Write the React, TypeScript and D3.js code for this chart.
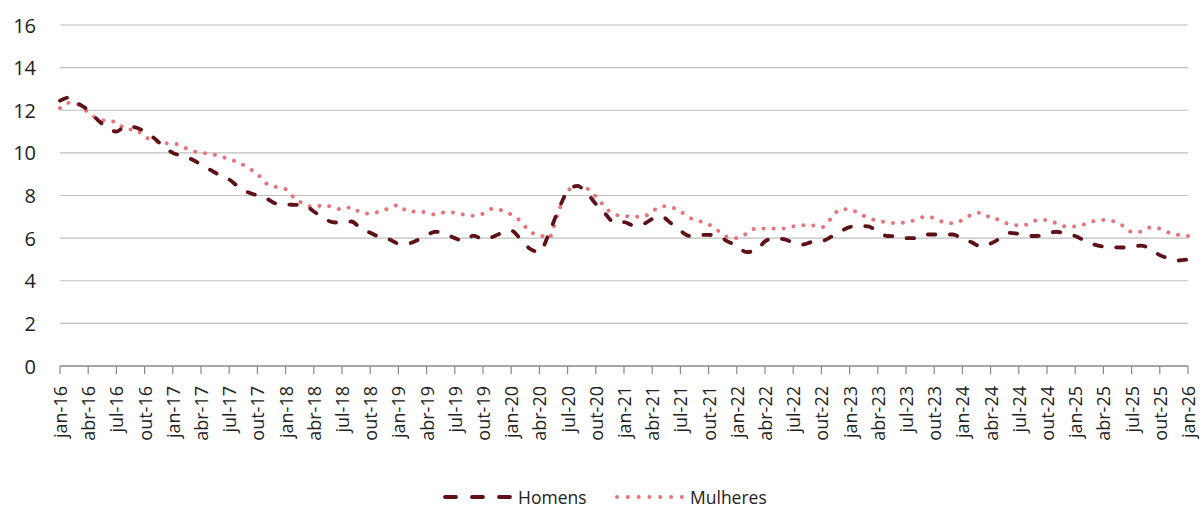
import * as d3 from "d3";

const monthNames = ["jan", "fev", "mar", "abr", "mai", "jun", "jul", "ago", "set", "out", "nov", "dez"];
const years = [16, 17, 18, 19, 20, 21, 22, 23, 24, 25, 26];

// jan-16 .. jan-26, monthly
const categories: string[] = [];
years.forEach((y) =>
  monthNames.forEach((m, i) => {
    if (y < 26 || i === 0) categories.push(`${m}-${y}`);
  })
);

const homens = [
  12.45, 12.6, 12.3, 12.0, 11.55, 11.2, 11.0, 11.25, 11.2, 11.0, 10.7, 10.3, 10.0, 9.85, 9.7, 9.45, 9.2, 8.95, 8.75, 8.4,
  8.15, 8.0, 7.85, 7.62, 7.58, 7.56, 7.54, 7.25, 6.95, 6.75, 6.72, 6.78, 6.45, 6.25, 6.05, 5.95, 5.75, 5.75, 5.9, 6.15,
  6.3, 6.2, 6.0, 5.88, 6.12, 5.95, 6.05, 6.25, 6.35, 5.95, 5.5, 5.35, 6.2, 7.3, 8.2, 8.45, 8.15, 7.6, 7.15, 6.72,
  6.75, 6.6, 6.65, 6.9, 7.0, 6.7, 6.35, 6.1, 6.15, 6.15, 6.1, 5.85, 5.65, 5.35, 5.4, 5.85, 6.0, 5.95, 5.8, 5.7,
  5.82, 5.85, 6.05, 6.3, 6.52, 6.58, 6.55, 6.3, 6.1, 6.08, 6.0, 6.0, 6.17, 6.17, 6.17, 6.17, 5.95, 5.8, 5.6, 5.75,
  5.98, 6.25, 6.2, 6.1, 6.1, 6.2, 6.3, 6.2, 6.1, 5.88, 5.7, 5.6, 5.57, 5.56, 5.57, 5.65, 5.5, 5.2, 5.05, 4.95, 5.0,
];

const mulheres = [
  12.1, 12.35, 12.25, 11.9, 11.6, 11.5, 11.45, 11.1, 11.1, 10.75, 10.6, 10.45, 10.45, 10.3, 10.1, 10.0, 9.95, 9.85, 9.7, 9.55,
  9.3, 9.0, 8.55, 8.4, 8.3, 7.85, 7.6, 7.45, 7.55, 7.45, 7.35, 7.45, 7.2, 7.15, 7.25, 7.4, 7.55, 7.25, 7.25, 7.2,
  7.1, 7.22, 7.2, 7.1, 7.05, 7.15, 7.38, 7.3, 7.1, 6.8, 6.3, 6.15, 6.0, 7.2, 8.2, 8.45, 8.35, 7.95, 7.45, 7.1,
  7.05, 7.0, 7.0, 7.25, 7.5, 7.45, 7.25, 6.95, 6.8, 6.65, 6.35, 6.05, 6.0, 6.2, 6.45, 6.45, 6.45, 6.45, 6.55, 6.6,
  6.6, 6.5, 6.9, 7.35, 7.35, 7.15, 6.95, 6.8, 6.75, 6.7, 6.75, 6.85, 7.0, 6.95, 6.75, 6.7, 6.85, 7.1, 7.2, 6.95,
  6.85, 6.65, 6.6, 6.65, 6.85, 6.85, 6.7, 6.55, 6.55, 6.65, 6.8, 6.85, 6.8, 6.6, 6.3, 6.3, 6.5, 6.45, 6.25, 6.15, 6.1,
];

const yTicks = [0, 2, 4, 6, 8, 10, 12, 14, 16];
const tickLabels = categories.filter((_, i) => i % 3 === 0);

const W = 1200;
const H = 509;
const FONT = "'Open Sans', sans-serif";
const C_HOM = "#5e1118";
const C_MUL = "#e8737c";

export default function App() {
  const x = d3.scalePoint<string>().domain(categories).range([60, 1188]);
  const y = d3.scaleLinear().domain([0, 16]).range([366, 25]);

  const line = d3
    .line<number>()
    .x((_, i) => x(categories[i]) as number)
    .y((d) => y(d))
    .curve(d3.curveMonotoneX);

  return (
    <svg width={W} height={H} style={{ position: "absolute", left: 0, top: 0, background: "#fff" }}>
      {yTicks.map((t) => (
        <g key={t}>
          {t > 0 && <line x1={60} x2={1188} y1={y(t)} y2={y(t)} stroke="#bfbfbf" strokeWidth={1.2} />}
          <text x={36} y={y(t)} textAnchor="end" dominantBaseline="central" fontFamily={FONT} fontSize={20} fill="#222">
            {t}
          </text>
        </g>
      ))}
      <line x1={60} x2={1188} y1={y(0)} y2={y(0)} stroke="#888" strokeWidth={1.3} />
      {tickLabels.map((c) => {
        const px = x(c) as number;
        return (
          <g key={c}>
            <line x1={px} x2={px} y1={y(0)} y2={y(0) + 8} stroke="#888" strokeWidth={1.2} />
            <text
              transform={`translate(${px},386) rotate(-90)`}
              textAnchor="end"
              dominantBaseline="central"
              fontFamily={FONT}
              fontSize={18}
              fill="#222"
            >
              {c}
            </text>
          </g>
        );
      })}
      <path d={line(mulheres) || ""} fill="none" stroke={C_MUL} strokeWidth={4} strokeDasharray="0.01 10" strokeLinecap="round" />
      <path d={line(homens) || ""} fill="none" stroke={C_HOM} strokeWidth={3.8} strokeDasharray="7.5 14.5" strokeLinecap="round" />

      <g>
        <line x1={445} x2={511} y1={497} y2={497} stroke={C_HOM} strokeWidth={3.8} strokeDasharray="11 16" strokeLinecap="round" />
        <text x={518} y={497} dominantBaseline="central" fontFamily={FONT} fontSize={17.5} fill="#222">
          Homens
        </text>
        <line x1={617} x2={683} y1={497} y2={497} stroke={C_MUL} strokeWidth={4} strokeDasharray="0.01 10.8" strokeLinecap="round" />
        <text x={690} y={497} dominantBaseline="central" fontFamily={FONT} fontSize={17.5} fill="#222">
          Mulheres
        </text>
      </g>
    </svg>
  );
}
